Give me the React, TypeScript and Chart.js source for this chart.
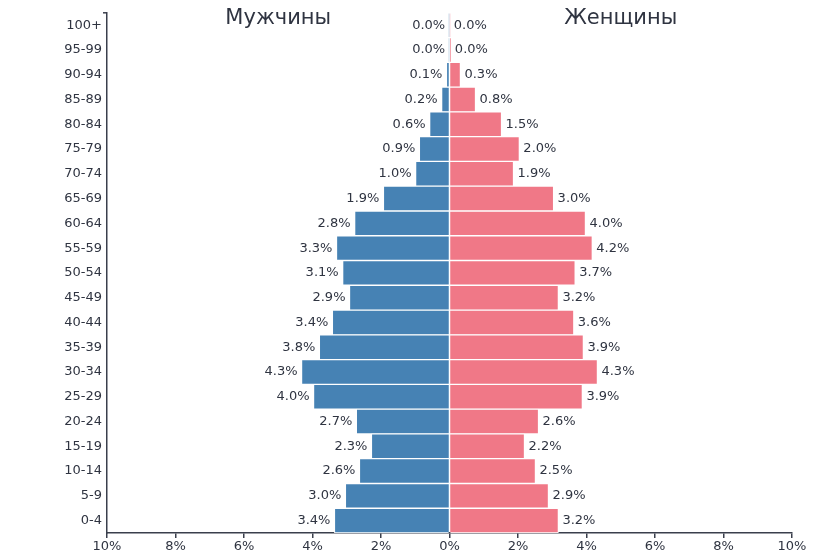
import React, { useEffect, useRef } from "react";
import { Chart, registerables } from "chart.js";

Chart.register(...registerables);

const ageGroups = ["100+", "95-99", "90-94", "85-89", "80-84", "75-79", "70-74", "65-69", "60-64", "55-59", "50-54", "45-49", "40-44", "35-39", "30-34", "25-29", "20-24", "15-19", "10-14", "5-9", "0-4"];
const men = [0.01, 0.01, 0.09, 0.23, 0.58, 0.88, 0.99, 1.93, 2.77, 3.3, 3.12, 2.92, 3.42, 3.8, 4.32, 3.97, 2.72, 2.28, 2.63, 3.04, 3.36];
const women = [0.01, 0.04, 0.32, 0.76, 1.52, 2.04, 1.87, 3.04, 3.97, 4.17, 3.67, 3.18, 3.63, 3.91, 4.32, 3.88, 2.6, 2.19, 2.51, 2.89, 3.18];
const xTicks = [-10, -8, -6, -4, -2, 0, 2, 4, 6, 8, 10];
const menTitle = "Мужчины";
const womenTitle = "Женщины";

const FONT = "'DejaVu Sans', sans-serif";
const TEXT = "#2f3441";
const AXIS = "#3a3f4c";

const labelsPlugin = {
  id: "pyramidLabels",
  afterDatasetsDraw(chart: any) {
    const ctx = chart.ctx;
    ctx.save();
    ctx.font = `13px ${FONT}`;
    ctx.fillStyle = TEXT;
    ctx.textBaseline = "middle";
    chart.data.datasets.forEach((ds: any, di: number) => {
      const meta = chart.getDatasetMeta(di);
      meta.data.forEach((bar: any, i: number) => {
        const v = Math.abs(ds.data[i]);
        const txt = v.toFixed(1) + "%";
        if (di === 0) {
          ctx.textAlign = "right";
          ctx.fillText(txt, bar.x - 4, bar.y);
        } else {
          ctx.textAlign = "left";
          ctx.fillText(txt, bar.x + 4, bar.y);
        }
      });
    });
    const xs = chart.scales.x;
    const top = chart.chartArea.top;
    ctx.font = `21px ${FONT}`;
    ctx.textAlign = "center";
    ctx.fillText(menTitle, xs.getPixelForValue(-5), top + 6);
    ctx.fillText(womenTitle, xs.getPixelForValue(5), top + 6);
    // small top cap on the y axis line
    ctx.strokeStyle = AXIS;
    ctx.lineWidth = 1.5;
    ctx.beginPath();
    ctx.moveTo(chart.chartArea.left - 4, top);
    ctx.lineTo(chart.chartArea.left, top);
    ctx.stroke();
    ctx.restore();
  },
};

export default function App() {
  const ref = useRef<HTMLCanvasElement>(null);
  useEffect(() => {
    if (!ref.current) return;
    const chart = new Chart(ref.current, {
      type: "bar",
      data: {
        labels: ageGroups,
        datasets: [
          {
            label: menTitle,
            data: men.map((v) => -v),
            backgroundColor: "#4682b4",
            borderColor: "#ffffff",
            borderWidth: 1,
            barPercentage: 1,
            categoryPercentage: 1,
          },
          {
            label: womenTitle,
            data: women,
            backgroundColor: "#f07887",
            borderColor: "#ffffff",
            borderWidth: 1,
            barPercentage: 1,
            categoryPercentage: 1,
          },
        ],
      },
      options: {
        indexAxis: "y",
        animation: false,
        responsive: false,
        maintainAspectRatio: false,
        layout: { padding: { left: 0, right: 24, top: 12, bottom: 0 } },
        plugins: {
          legend: { display: false },
          tooltip: { enabled: false },
          title: { display: false },
        },
        scales: {
          x: {
            type: "linear",
            stacked: true,
            min: -10,
            max: 10,
            afterBuildTicks: (s: any) => {
              s.ticks = xTicks.map((v) => ({ value: v }));
            },
            afterFit: (s: any) => {
              s.height = 20;
            },
            ticks: {
              callback: (v: any) => Math.abs(Number(v)) + "%",
              font: { family: FONT, size: 13 },
              color: TEXT,
              padding: 1,
              maxRotation: 0,
              autoSkip: false,
            },
            grid: {
              display: true,
              drawOnChartArea: false,
              drawTicks: true,
              tickLength: 5,
              color: AXIS,
              lineWidth: 1.5,
            },
            border: { display: true, color: AXIS, width: 1.5 },
          },
          y: {
            stacked: true,
            afterFit: (s: any) => {
              s.width = 107;
            },
            ticks: {
              font: { family: FONT, size: 13 },
              color: TEXT,
              padding: 5,
              autoSkip: false,
            },
            grid: { display: false, drawTicks: false },
            border: { display: true, color: AXIS, width: 1.5 },
          },
        },
      },
      plugins: [labelsPlugin],
    } as any);
    return () => chart.destroy();
  }, []);
  return (
    <div style={{ position: "absolute", left: 0, top: 0, width: 816, height: 553, background: "#fff" }}>
      <canvas ref={ref} width={816} height={553} style={{ width: 816, height: 553, display: "block" }} />
    </div>
  );
}
